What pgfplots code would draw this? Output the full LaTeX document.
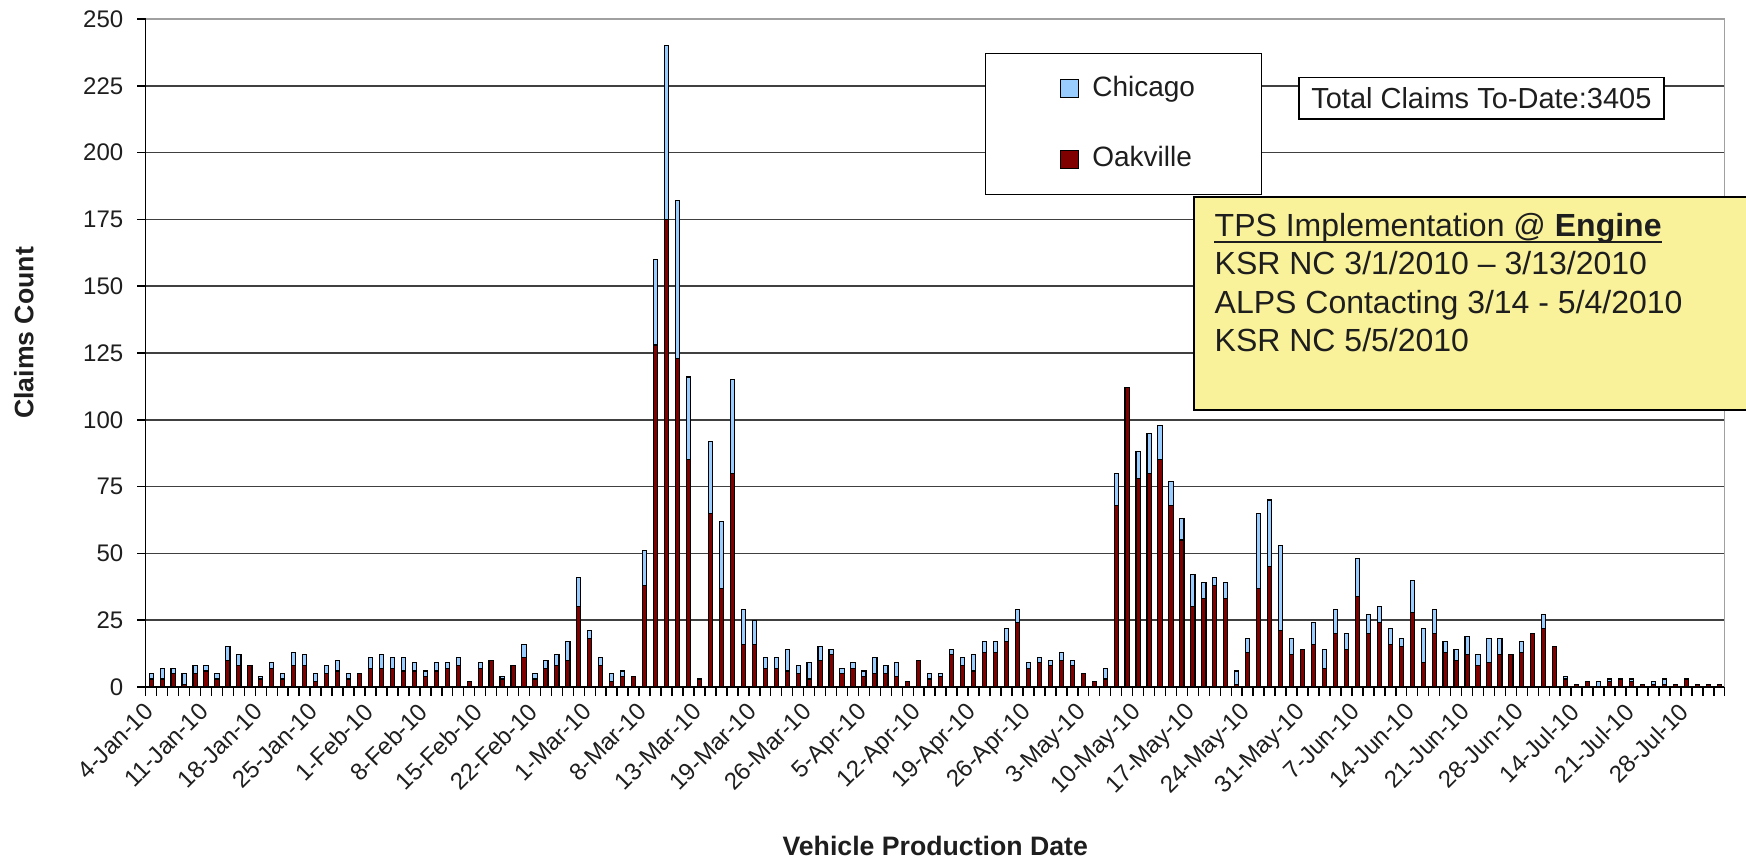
\documentclass[border=0pt]{standalone}
\usepackage{pgfplots}
\pgfplotsset{compat=1.18}
\usepackage{pgfplotstable}
\usepackage{fontspec}
\setmainfont{Liberation Sans}
\definecolor{chi}{HTML}{99CCFF}
\definecolor{oak}{HTML}{800000}
\definecolor{note}{HTML}{F9F29B}
\definecolor{gridc}{HTML}{404040}
\definecolor{framec}{HTML}{A0A0A0}
\definecolor{txt}{HTML}{1E1E1E}
\pgfplotsset{sqlegend/.style={legend image code/.code={%
  \path[draw=none, fill=none] (0pt,0pt) rectangle (12.1pt,0.1pt);
  \draw[##1, line width=0.45pt] (4.5pt,-2.7pt) rectangle (9.9pt,2.7pt);}}}

% x = production-day index, O = Oakville, C = Chicago
\pgfplotstableread{
x O C
0 3 2
1 3 4
2 5 2
3 1 4
4 5 3
5 6 2
6 3 2
7 10 5
8 8 4
9 8 0
10 3 1
11 7 2
12 3 2
13 8 5
14 8 4
15 2 3
16 5 3
17 6 4
18 3 2
19 5 0
20 7 4
21 7 5
22 7 4
23 6 5
24 6 3
25 4 2
26 6 3
27 7 2
28 8 3
29 2 0
30 7 2
31 10 0
32 3 1
33 8 0
34 11 5
35 3 2
36 7 3
37 8 4
38 10 7
39 30 11
40 18 3
41 8 3
42 2 3
43 4 2
44 4 0
45 38 13
46 128 32
47 175 65
48 123 59
49 85 31
50 3 0
51 65 27
52 37 25
53 80 35
54 16 13
55 16 9
56 7 4
57 7 4
58 6 8
59 5 3
60 3 6
61 10 5
62 12 2
63 5 2
64 7 2
65 4 2
66 5 6
67 5 3
68 4 5
69 2 0
70 10 0
71 3 2
72 4 1
73 12 2
74 8 3
75 6 6
76 13 4
77 13 4
78 17 5
79 24 5
80 7 2
81 9 2
82 8 2
83 10 3
84 8 2
85 5 0
86 2 0
87 3 4
88 68 12
89 112 0
90 78 10
91 80 15
92 85 13
93 68 9
94 55 8
95 30 12
96 33 6
97 38 3
98 33 6
99 1 5
100 13 5
101 37 28
102 45 25
103 21 32
104 12 6
105 14 0
106 16 8
107 7 7
108 20 9
109 14 6
110 34 14
111 20 7
112 24 6
113 16 6
114 15 3
115 28 12
116 9 13
117 20 9
118 13 4
119 10 4
120 12 7
121 8 4
122 9 9
123 12 6
124 12 0
125 13 4
126 20 0
127 22 5
128 15 0
129 3 1
130 1 0
131 2 0
132 0 2
133 2 1
134 3 0
135 2 1
136 1 0
137 1 1
138 1 2
139 1 0
140 3 0
141 1 0
142 1 0
143 1 0
}\claims

\begin{document}
\begin{tikzpicture}
\begin{axis}[
  at={(0pt,0pt)}, anchor=south west,
  scale only axis, width=473.7pt, height=200.4pt,
  xmin=-0.5, xmax=143.5, ymin=0, ymax=250,
  enlarge x limits=false,
  ybar stacked, bar width=1.25pt,
  axis x line*=bottom, axis y line*=left,
  axis line style={black, line width=0.45pt},
  tick align=outside, major tick length=0pt, minor tick length=2.6pt,
  tick style={black, line width=0.45pt},
  ytick={0,25,...,225},
  extra y ticks={250}, extra y tick style={grid=none},
  minor ytick={0,25,...,250},
  ymajorgrids, major grid style={gridc, line width=0.45pt},
  minor xtick={-0.5,0.5,...,143.5},
  xtick={0,5,...,140},
  xticklabels={4-Jan-10,11-Jan-10,18-Jan-10,25-Jan-10,1-Feb-10,8-Feb-10,15-Feb-10,22-Feb-10,1-Mar-10,8-Mar-10,13-Mar-10,19-Mar-10,26-Mar-10,5-Apr-10,12-Apr-10,19-Apr-10,26-Apr-10,3-May-10,10-May-10,17-May-10,24-May-10,31-May-10,7-Jun-10,14-Jun-10,21-Jun-10,28-Jun-10,14-Jul-10,21-Jul-10,28-Jul-10},
  xticklabel style={xshift=-2.5pt, yshift=-2.6pt, rotate=45, anchor=north east, font=\fontsize{7.2}{8}\selectfont, text=txt, inner sep=1pt},
  yticklabel style={font=\fontsize{7.2}{8}\selectfont, text=txt, xshift=-3.2pt},
  /pgf/number format/assume math mode=true,
  xlabel={Vehicle Production Date}, ylabel={Claims Count},
  xlabel style={font=\bfseries\fontsize{8}{9}\selectfont, text=txt, at={(axis description cs:0.5,-0.238)}, anchor=center},
  ylabel style={font=\bfseries\fontsize{8}{9}\selectfont, text=txt, at={(axis description cs:-0.0771,0.53)}, anchor=center},
  reverse legend,
  legend cell align=left,
  legend style={at={(0.5315,0.9496)}, anchor=north west, draw=black, line width=0.45pt, fill=white,
    font=\fontsize{8.4}{10}\selectfont, text=txt, inner xsep=17.9pt, inner ysep=4.7pt, row sep=9.7pt},
]
\addplot[fill=oak, draw=black, line width=0.33pt, sqlegend]
  table[x=x, y=O]{\claims};
\addplot[fill=chi, draw=black, line width=0.33pt, sqlegend]
  table[x=x, y=C]{\claims};
\legend{Oakville,Chicago}
\end{axis}
% plot-area frame (top and right, grey)
\draw[framec, line width=0.45pt] (0pt,200.4pt) -- (473.7pt,200.4pt) -- (473.7pt,0pt);
% total box
\node[draw=black, line width=0.45pt, fill=white, minimum width=109.5pt, minimum height=12.5pt, inner sep=0pt,
  font=\fontsize{8.7}{10}\selectfont, text=txt] at (400.7pt,176.6pt) {Total Claims To-Date:3405};
% yellow note
\draw[fill=note, line width=0.6pt] (314.5pt,83.1pt) rectangle (486pt,147pt);
\begin{scope}[every node/.style={anchor=base west, inner sep=0pt, font=\fontsize{9.6}{11}\selectfont, text=txt}]
\node (l1) at (320.5pt,135.1pt) {TPS Implementation @ \textbf{Engine}};
\draw[txt, line width=0.55pt] ([yshift=-1.6pt]l1.base west) -- ([yshift=-1.6pt]l1.base east);
\node at (320.5pt,123.6pt) {KSR NC 3/1/2010 – 3/13/2010};
\node at (320.5pt,112.1pt) {ALPS Contacting 3/14 - 5/4/2010};
\node at (320.5pt,100.6pt) {KSR NC 5/5/2010};
\end{scope}
\pgfresetboundingbox
\path[use as bounding box] (-43.71pt,-52.8pt) rectangle (480.09pt,206.1pt);
\end{tikzpicture}
\end{document}
